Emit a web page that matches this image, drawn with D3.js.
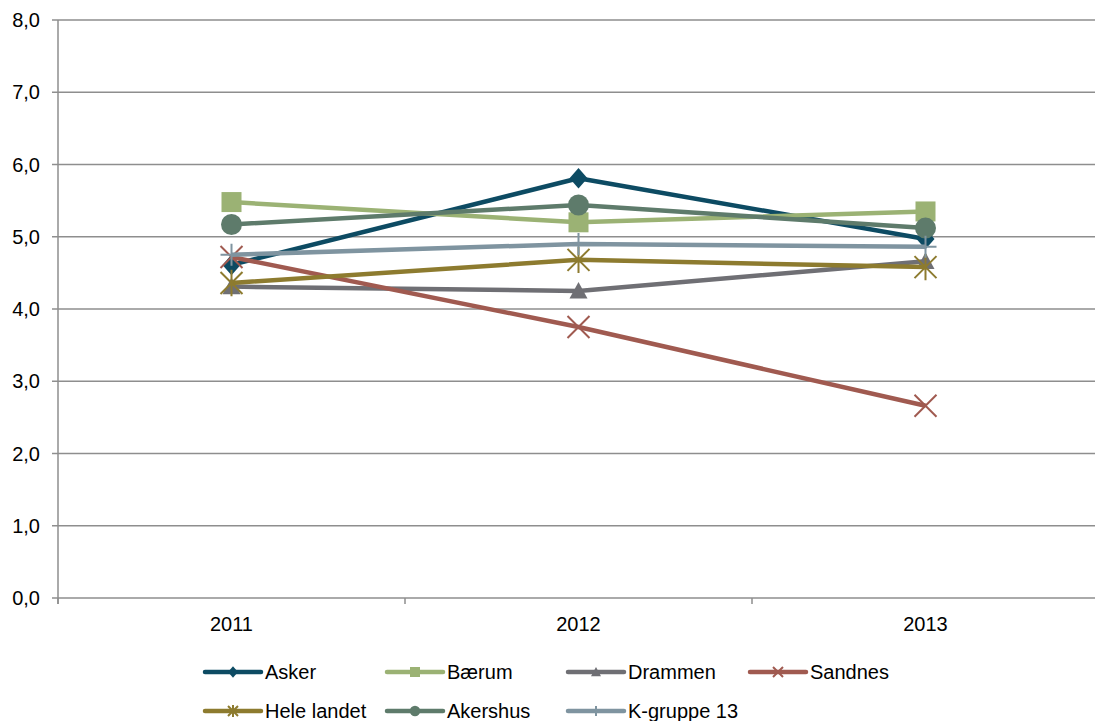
<!DOCTYPE html>
<html><head><meta charset="utf-8">
<script src="https://cdn.jsdelivr.net/npm/d3@7"></script>
<style>body{margin:0;background:#fff}svg{display:block}text{font-family:"Liberation Sans",Arial,sans-serif}</style>
</head><body><svg id="c" width="1095" height="721"></svg>
<script>
const years = ["2011","2012","2013"];
const seriesNames = ["Asker","Bærum","Drammen","Sandnes","Hele landet","Akershus","K-gruppe 13"];
const asker = [4.61, 5.81, 4.97];
const baerum = [5.48, 5.20, 5.35];
const drammen = [4.31, 4.25, 4.66];
const sandnes = [4.72, 3.75, 2.66];
const heleLandet = [4.36, 4.68, 4.58];
const akershus = [5.17, 5.44, 5.12];
const kgruppe = [4.75, 4.90, 4.86];
const yTicks = [0,1,2,3,4,5,6,7,8];
const colors = ["#0d4b63","#9bb274","#6f6f74","#a05a50","#8d7b2f","#5e7b6b","#7f94a0"];
const symbols = ["diamond","square","triangle","x","star","circle","plus"];
const values = [asker, baerum, drammen, sandnes, heleLandet, akershus, kgruppe];

const svg = d3.select("#c");
const L = 58, R = 1099, T = 20, B = 598;
const x = d3.scaleBand().domain(years).range([L, R]);
const y = d3.scaleLinear().domain([0, 8]).range([B, T]);
const grid = "#8e8e8e";

svg.append("g").selectAll("line").data(yTicks).join("line")
  .attr("x1", L - 6).attr("x2", R).attr("y1", d => y(d)).attr("y2", d => y(d))
  .attr("stroke", grid).attr("stroke-width", 1.5);
svg.append("g").selectAll("text").data(yTicks).join("text")
  .attr("x", 40).attr("y", d => y(d) + 7).attr("text-anchor", "end")
  .attr("font-size", 20).attr("fill", "#000").text(d => d3.format(".1f")(d).replace(".", ","));
svg.append("line").attr("x1", L).attr("x2", L).attr("y1", T).attr("y2", B + 6)
  .attr("stroke", grid).attr("stroke-width", 1.5);
const bounds = years.map(d => x(d)).concat([x(years[years.length-1]) + x.bandwidth()]);
svg.append("g").selectAll("line").data(bounds).join("line")
  .attr("x1", d => d).attr("x2", d => d).attr("y1", B).attr("y2", B + 6)
  .attr("stroke", grid).attr("stroke-width", 1.5);
svg.append("g").selectAll("text").data(years).join("text")
  .attr("x", d => x(d) + x.bandwidth()/2).attr("y", 631).attr("text-anchor", "middle")
  .attr("font-size", 20).text(d => d);

function marker(g, type, color, s) {
  const h = s/2;
  if (type === "diamond") g.append("path").attr("d", `M0,${-h*1.15}L${h*1.0},0L0,${h*1.15}L${-h*1.0},0Z`).attr("fill", color);
  else if (type === "square") g.append("rect").attr("x", -h).attr("y", -h).attr("width", s).attr("height", s).attr("fill", color);
  else if (type === "triangle") g.append("path").attr("d", `M0,${-h}L${h},${h*0.85}L${-h},${h*0.85}Z`).attr("fill", color);
  else if (type === "circle") g.append("circle").attr("r", h*1.05).attr("fill", color);
  else if (type === "x") g.append("path").attr("d", `M${-h},${-h}L${h},${h}M${h},${-h}L${-h},${h}`).attr("stroke", color).attr("stroke-width", 2);
  else if (type === "star") g.append("path").attr("d", `M${-h},${-h}L${h},${h}M${h},${-h}L${-h},${h}M0,${-h*1.2}L0,${h*1.2}`).attr("stroke", color).attr("stroke-width", 2);
  else if (type === "plus") g.append("path").attr("d", `M0,${-h}L0,${h}M${-h},0L${h},0`).attr("stroke", color).attr("stroke-width", 2);
}

const line = d3.line().x((d, i) => x(years[i]) + x.bandwidth()/2).y(d => y(d));
const sizes = {diamond:18, square:20, triangle:18, x:22, star:22, circle:20, plus:22};
seriesNames.forEach((name, k) => {
  const g = svg.append("g");
  g.append("path").datum(values[k]).attr("d", line).attr("fill", "none")
    .attr("stroke", colors[k]).attr("stroke-width", 4.5).attr("stroke-linejoin", "round");
  values[k].forEach((v, i) => {
    const m = g.append("g").attr("transform", `translate(${x(years[i]) + x.bandwidth()/2},${y(v)})`);
    marker(m, symbols[k], colors[k], sizes[symbols[k]]);
  });
});

const legX = [205, 387, 568, 750];
const legY = [672, 711];
seriesNames.forEach((name, k) => {
  const col = k < 4 ? k : k - 4;
  const row = k < 4 ? 0 : 1;
  const g = svg.append("g").attr("transform", `translate(${legX[col]},${legY[row]})`);
  g.append("line").attr("x1", 0).attr("x2", 56).attr("y1", 0).attr("y2", 0)
    .attr("stroke", colors[k]).attr("stroke-width", 4.5).attr("stroke-linecap", "round");
  const m = g.append("g").attr("transform", "translate(28,0)");
  marker(m, symbols[k], colors[k], 10);
  g.append("text").attr("x", 60).attr("y", 7).attr("font-size", 20).text(name);
});
</script></body></html>
